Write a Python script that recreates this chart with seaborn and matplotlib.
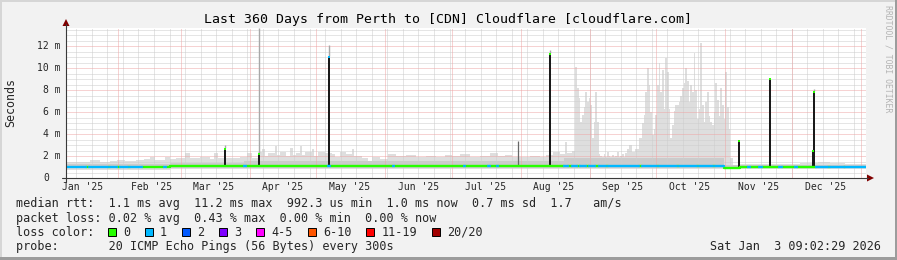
import datetime as dt
import numpy as np
import pandas as pd
import matplotlib
matplotlib.use("Agg")
import matplotlib.pyplot as plt
import matplotlib.transforms as mtransforms
from matplotlib.patches import Polygon, Rectangle
from matplotlib.lines import Line2D
import seaborn as sns

# ---------------- data ----------------
title = "Last 360 Days from Perth to [CDN] Cloudflare [cloudflare.com]"
graph_start = dt.datetime(2025, 1, 8, 9, 2, 29)
span_days = 360
y_max = 13.64
month_labels = ["Jan '25", "Feb '25", "Mar '25", "Apr '25", "May '25", "Jun '25",
                "Jul '25", "Aug '25", "Sep '25", "Oct '25", "Nov '25", "Dec '25"]
y_ticks = [0, 2, 4, 6, 8, 10, 12]
y_tick_labels = ["0  ", "2 m", "4 m", "6 m", "8 m", "10 m", "12 m"]

# smoke upper envelope (ms), days since graph start, before the big bursts
early_day = [0, 6.5, 11, 15.5, 20, 23.1, 26.7, 31.3, 35.3, 38, 40.2, 44.7, 47, 49.3, 53.7,
             56, 60.5, 65, 66.8, 68.6, 73.1, 78.5, 81.6, 83.9, 86.6, 88.4, 89.5, 91.1, 94.2,
             95.0, 96.5, 99.0, 101, 102.0, 103.7, 105.5, 106.3, 107.7, 110.9, 111.8, 113.6,
             116.7, 119.9, 121.0, 123.5, 126.2, 128.9, 129.6,
             130.7, 133.4, 136.1, 137.9, 141.5, 145.1, 148.3, 152.8, 157.3, 161.8, 166.3,
             170.7, 173.9, 177.5, 182, 186.5, 191, 194.6, 197.7, 200.9, 204.5, 209, 213.5,
             216.2, 219.3, 222.5, 224.7, 225.6, 227.9]
early_max = [1.5, 1.45, 1.6, 1.5, 1.55, 1.65, 1.55, 1.6, 1.7, 1.95, 1.6, 1.9, 1.7, 1.8, 2.3,
             1.8, 1.9, 1.75, 2.3, 1.8, 1.8, 1.9, 2.3, 1.8, 2.4, 2.6, 2.0, 2.3, 2.9,
             2.1, 2.4, 2.0, 2.7, 2.1, 2.3, 2.9, 2.1, 2.4, 2.6, 2.0, 2.4,
             2.3, 2.2, 1.9, 2.4, 2.2, 2.6, 2.0,
             2.0, 1.8, 1.5, 1.9, 1.7, 2.2, 2.0, 2.1, 1.9, 2.0, 1.9,
             2.1, 2.0, 2.2, 1.9, 2.0, 2.3, 2.0, 2.1, 1.9, 1.9, 2.0, 1.9,
             2.1, 2.4, 2.2, 3.3, 2.3, 2.5]

# big bursts Aug - Oct, sampled every 0.75 day
burst_start_day = 229.25
burst_step_day = 0.75
burst_max = [10.1, 8.2, 7.3, 5.1, 5.7, 6.5, 7.8, 6.9, 7.3, 6.6, 3.6, 5.1, 7.8, 5.1, 2.2,
             2.0, 1.9, 2.2, 1.9, 2.4, 2.0, 1.9, 2.1, 1.9, 2.0, 2.4, 1.9, 2.0, 2.2, 1.9, 2.3, 2.6,
             3.0, 3.0, 2.4, 2.4, 2.6, 2.6, 3.6, 3.6, 5.0, 5.7, 7.8, 10.0, 8.5, 6.0, 3.9, 4.5,
             5.7, 8.5, 10.5, 7.8, 9.8, 6.3, 10.9, 9.6, 6.3, 3.6, 4.8, 6.1, 6.6, 6.6, 6.9, 7.5,
             8.2, 8.6, 10.0, 8.8, 6.9, 8.5, 7.8, 11.4, 8.0, 5.4, 6.3, 12.3, 6.6, 5.1, 6.9, 7.8,
             5.6, 5.1, 4.8, 6.0, 8.6, 7.1, 5.6, 8.2, 6.6, 5.4, 9.6, 6.5, 4.5, 1.8]

late_day = [300.0, 303.5, 312.5, 321.5, 330.5, 338.6, 344, 350.7]
late_max = [1.2, 1.3, 1.25, 1.3, 1.35, 1.5, 1.4, 1.3]

# smoke lower bound and denser inner band
lo_day = [0, 47, 224, 296]
lo_ms = [0.75, 0.8, 0.85, 0.8]
mid_day = [0, 47, 80, 224, 296, 303]
mid_ms = [1.3, 1.4, 1.55, 1.85, 1.15, 1.2]

# median rtt (ms)
median_day = [0, 34, 47, 80, 296, 303.3]
median_ms = [1.01, 1.04, 1.08, 1.11, 0.95, 1.03]

# packet loss class along the median (0 = no loss, 1 = one lost ping)
loss_day = [0, 9, 10.2, 19, 20, 23, 24.2, 28, 28.8, 34,
            44, 44.8, 80, 80.8, 118, 119, 147, 147.6, 179, 179.6, 190, 191, 194, 194.6,
            224, 226, 227.5, 230, 231.5, 234, 235.5, 238, 240, 243, 244,
            258, 259, 266, 267, 275, 276, 284, 285, 291, 292, 296,
            307, 307.7, 312, 313, 321, 322, 328, 329, 337.5, 343, 343.6, 350, 350.5]
loss_level = [1, 0, 1, 0, 1, 0, 1, 0, 1, 0,
              1, 0, 1, 0, 1, 0, 1, 0, 1, 0, 1, 0, 1, 0,
              1, 0, 1, 0, 1, 0, 1, 0, 1, 0, 1,
              0, 1, 0, 1, 0, 1, 0, 1, 0, 1, 0,
              1, 0, 1, 0, 1, 0, 1, 0, 1, 0, 1, 0, 1]

# isolated spikes
spike_day = [71.7, 87.0, 118.4, 218.0, 303.0, 317.0, 336.1, 336.8]
spike_top = [2.75, 2.3, 11.1, 11.4, 3.45, 9.06, 2.55, 7.94]
spike_smoke = [3.0, 13.64, 12.1, 11.6, 3.5, 9.1, 2.6, 8.1]
spike_loss = [0, 0, 1, 0, 0, 0, 0, 0]
grey_spike_day = [203.6]
grey_spike_top = [3.4]

loss_names = ["0", "1", "2", "3", "4-5", "6-10", "11-19", "20/20"]
loss_colors = ["#26ff00", "#00b8ff", "#0059ff", "#7e00ff", "#ff00ff", "#ff5500", "#ff0000", "#a10000"]

legend_rows = [
    "median rtt:  1.1 ms avg  11.2 ms max  992.3 us min  1.0 ms now  0.7 ms sd  1.7   am/s",
    "packet loss: 0.02 % avg  0.43 % max  0.00 % min  0.00 % now",
    "loss color:",
    "probe:       20 ICMP Echo Pings (56 Bytes) every 300s",
]
stamp = "Sat Jan  3 09:02:29 2026"
side_text = "RRDTOOL / TOBI OETIKER"

# ---------------- figure ----------------
sns.set_theme(style="white")
plt.rcParams["font.family"] = ["DejaVu Sans Mono", "DejaVu Sans"]

W, H = 897, 260
fig = plt.figure(figsize=(W / 100, H / 100), dpi=100)
fig.patch.set_facecolor("#f2f2f2")
pix = mtransforms.Affine2D().scale(1 / W, -1 / H).translate(0, 1) + fig.transFigure

X0, X1, YT, YB = 66, 866, 28, 178
ax = fig.add_axes([X0 / W, 1 - YB / H, (X1 - X0) / W, (YB - YT) / H])
ax.set_facecolor("white")
ax.set_xlim(0, span_days)
ax.set_ylim(0, y_max)
for s in ax.spines.values():
    s.set_visible(False)
ax.set_xticks([])
ax.set_yticks([])


def day_of(d):
    return (d - graph_start).total_seconds() / 86400.0


def step_at(xs, ys, t):
    idx = np.searchsorted(np.asarray(xs), t, side="right") - 1
    return np.asarray(ys)[np.clip(idx, 0, len(ys) - 1)]


# smoke
burst_day = burst_start_day + burst_step_day * np.arange(len(burst_max))
env_day = np.concatenate([early_day, burst_day, late_day, [span_days]])
env_max = np.concatenate([early_max, burst_max, late_max, [late_max[-1]]])
env_lo = step_at(lo_day, lo_ms, env_day)
ax.fill_between(env_day, env_lo, env_max, step="post", color="#dedede", lw=0, zorder=1)
mid_x = np.concatenate([mid_day, [span_days]])
mid_y = np.concatenate([mid_ms, [mid_ms[-1]]])
ax.fill_between(mid_x, 0.92, mid_y, step="post", color="#cbcbcb", lw=0, zorder=1.5)

# grid
pink = "#eea6a6"
grey = "#cdcdcd"
dots = (0, (1, 1))
for v in np.arange(0.5, y_max, 0.5):
    if abs(v % 2) > 1e-9:
        ax.axhline(v, color=grey, lw=0.72, ls=dots, zorder=3)
monday = dt.datetime(2025, 1, 13)
while day_of(monday) < span_days:
    ax.axvline(day_of(monday), color=grey, lw=0.72, ls=dots, zorder=3)
    monday += dt.timedelta(days=7)
for v in y_ticks[1:]:
    ax.axhline(v, color=pink, lw=0.72, ls=dots, zorder=3.1)
month_starts = [dt.datetime(2025, m, 1) for m in range(2, 13)] + [dt.datetime(2026, 1, 1)]
for m in month_starts:
    ax.axvline(day_of(m), color=pink, lw=0.72, ls=dots, zorder=3.1)

# spikes
med_at = lambda d: float(step_at(median_day, median_ms, d))
for d, top, sm, lv in zip(spike_day, spike_top, spike_smoke, spike_loss):
    m = med_at(d)
    ax.vlines(d, top, sm, color="#a8a8a8", lw=1.0, zorder=4)
    ax.vlines(d, m, top, color="#1a1a1a", lw=1.44, zorder=4.2)
    ax.vlines(d, top - 0.18, top, color=loss_colors[lv], lw=1.44, zorder=4.3)
for d, top in zip(grey_spike_day, grey_spike_top):
    ax.vlines(d, med_at(d), top, color="#666666", lw=0.9, zorder=4)

# median line coloured by loss
t = np.arange(0, span_days + 0.001, 0.1)
med = step_at(median_day, median_ms, t)
lvl = step_at(loss_day, loss_level, t)
rows, seg = [], 0
for i in range(len(t)):
    if i > 0 and lvl[i] != lvl[i - 1]:
        rows.append((t[i], med[i - 1], int(lvl[i - 1]), seg))
        seg += 1
    rows.append((t[i], med[i], int(lvl[i]), seg))
df = pd.DataFrame(rows, columns=["day", "ms", "loss", "seg"])
sns.lineplot(data=df, x="day", y="ms", hue="loss", units="seg", estimator=None,
             palette={0: loss_colors[0], 1: loss_colors[1]}, lw=1.7, legend=False,
             ax=ax, zorder=5, drawstyle="steps-post")
ax.set_xlabel("")
ax.set_ylabel("")
ax.set_xlim(0, span_days)
ax.set_ylim(0, y_max)

# axes lines and arrows
axis_c = "#3a3a3a"
arrow_c = "#800000"
fig.add_artist(Line2D([X0, X0], [YB + 4, 24], transform=pix, color=axis_c, lw=0.8))
fig.add_artist(Line2D([X0 - 4, 868], [YB, YB], transform=pix, color=axis_c, lw=0.8))
fig.add_artist(Polygon([[X0 - 3.5, 26], [X0 + 3.5, 26], [X0, 19]], closed=True,
                       transform=pix, color=arrow_c, lw=0))
fig.add_artist(Polygon([[867, YB - 3.5], [867, YB + 3.5], [874, YB]], closed=True,
                       transform=pix, color=arrow_c, lw=0))

# frame shading
fig.add_artist(Rectangle((0, 0), W, 2, transform=pix, color="#d6d6d6", lw=0))
fig.add_artist(Rectangle((0, 0), 2, H, transform=pix, color="#d6d6d6", lw=0))
fig.add_artist(Rectangle((0, H - 3), W, 3, transform=pix, color="#9c9c9c", lw=0))
fig.add_artist(Rectangle((W - 2, 0), 2, H, transform=pix, color="#9c9c9c", lw=0))

# texts
def ptxt(x, y, s, **kw):
    fig.text(x / W, 1 - y / H, s, **kw)

ptxt(448, 19.5, title, ha="center", va="center", fontsize=9.5, color="black")
ptxt(10.5, 103, "Seconds", ha="center", va="center", rotation=90, fontsize=8.4)
ptxt(888, 59, side_text, ha="center", va="center", rotation=270, fontsize=5.9, color="#b4b4b4")

cw_tick = 5.85
for v, lab in zip(y_ticks, y_tick_labels):
    yy = YB - v * (YB - YT) / y_max
    ptxt(60.5 - cw_tick * len(lab), yy, lab.rstrip(), ha="left", va="center", fontsize=7.0)

for i, lab in enumerate(month_labels):
    d = day_of(dt.datetime(2025, i + 1, 1)) + 15
    xx = X0 + d * (X1 - X0) / span_days
    ptxt(xx, 187.5, lab, ha="center", va="center", fontsize=7.0)

row_y = [204, 218.3, 232.4, 246.6]
for s, yy in zip(legend_rows, row_y):
    ptxt(16, yy, s, ha="left", va="center", fontsize=8.5)
ptxt(881, row_y[3], stamp, ha="right", va="center", fontsize=8.5)

cw = 7.12
bx = 108
for name, col in zip(loss_names, loss_colors):
    fig.add_artist(Rectangle((bx, row_y[2] - 4), 8, 8, transform=pix, facecolor=col,
                             edgecolor="black", lw=0.7))
    ptxt(bx + 15, row_y[2], name, ha="left", va="center", fontsize=8.5)
    bx += 15 + cw * len(name) + 15

fig.savefig("out.png", dpi=100, facecolor=fig.get_facecolor())
